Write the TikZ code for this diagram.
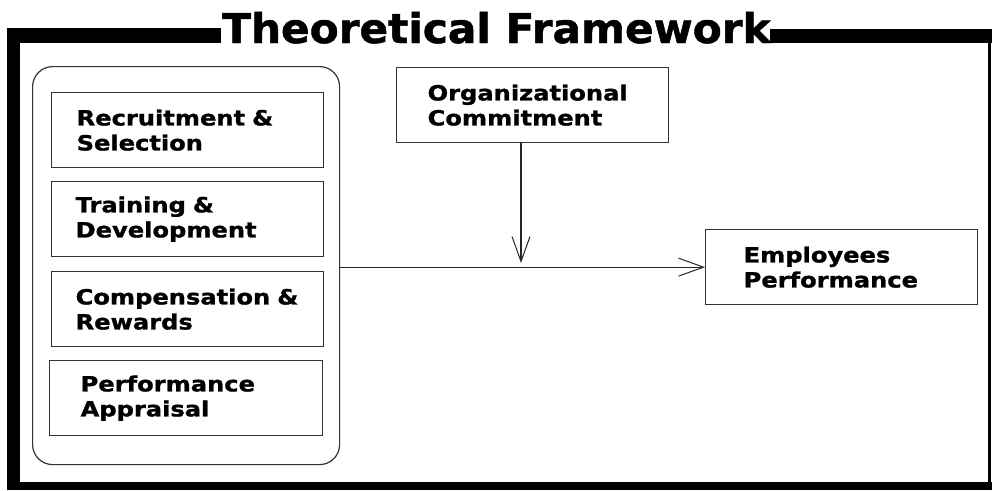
\documentclass[tikz,border=0pt]{standalone}
\usepackage{fontspec}
\setmainfont{DejaVu Sans}
\newfontfamily\boxfont{DejaVu Sans}[FakeStretch=1.15, FakeBold=1.2]
\newfontfamily\titlefont{DejaVu Sans}[FakeStretch=1.03, FakeBold=1.2]
\usetikzlibrary{arrows.meta}
\begin{document}
\begin{tikzpicture}[x=1pt,y=-1pt,
  frame/.style={fill=black, draw=none},
  box/.style={draw=black!80, line width=1.3pt, rectangle, minimum height=75pt,
    align=left, font=\boxfont\bfseries\fontsize{21}{25}\selectfont, inner ysep=0pt,
    anchor=north west},
  conn/.style={draw=black!85, line width=1.2pt},
  barb/.style={-{Straight Barb[length=25pt, width=18pt, line width=1pt]}}
]
\useasboundingbox (0,0) rectangle (992,490);
% outer frame
\fill[frame] (7,28) rectangle (20,490);
\fill[frame] (7,28) rectangle (221,43);
\fill[frame] (770,29) rectangle (992,43);
\fill[frame] (7,482) rectangle (992,490);
\fill[frame] (988,29) rectangle (991,490);
\node[anchor=base west, inner sep=0pt, font=\titlefont\bfseries\fontsize{41}{41}\selectfont] (title) at (222,43) {Theoretical Framework};
% container
\node[draw=black!80, line width=1.2pt, rounded corners=20pt, minimum width=307pt, minimum height=398pt, anchor=north west, inner sep=0pt] (hrm) at (32,66) {};
\node[box, inner xsep=25pt, text width=222pt] (rs) at (51,92) {Recruitment \&\\Selection};
\node[box, inner xsep=24pt, text width=224pt] (td) at (51,181) {Training \&\\Development};
\node[box, inner xsep=24pt, text width=224pt] (cr) at (51,271) {Compensation \&\\Rewards};
\node[box, inner xsep=31pt, text width=211pt] (pa) at (49,360) {Performance\\Appraisal};
% org commitment
\node[box, inner xsep=31pt, text width=210pt] (oc) at (396,67) {Organizational\\Commitment};
% employees performance
\node[box, inner xsep=38pt, text width=196pt] (ep) at (705,229) {Employees\\Performance};
% connectors
\coordinate (m) at (521,263);
\draw[conn, barb] (ep.west -| hrm.east) -- (ep.west);
\draw[conn, barb] (oc.south -| m) -- (m);
\end{tikzpicture}
\end{document}
